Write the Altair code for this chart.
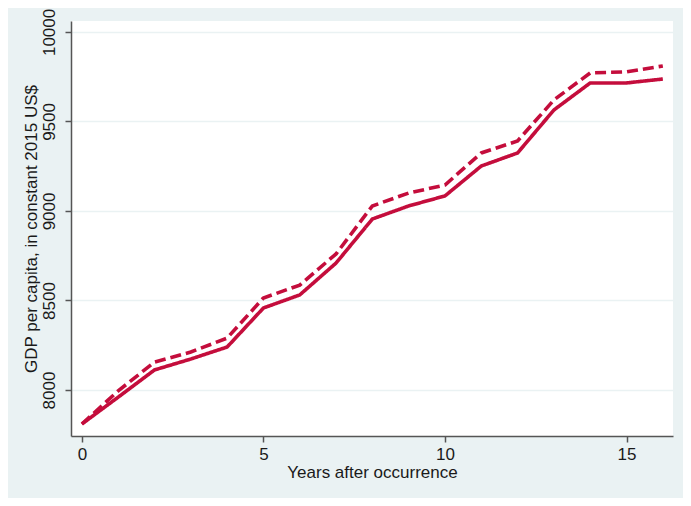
import altair as alt
import pandas as pd

years = list(range(17))
solid = [7810, 7960, 8112, 8173, 8240, 8458, 8531, 8709, 8955, 9028, 9084, 9251, 9324, 9564, 9715, 9715, 9737]
dashed = [7810, 7995, 8156, 8212, 8290, 8514, 8586, 8760, 9028, 9100, 9145, 9324, 9391, 9620, 9771, 9777, 9810]
series_names = ["solid", "dashed"]
x_ticks = [0, 5, 10, 15]
y_ticks = [8000, 8500, 9000, 9500, 10000]

rows = []
for name, vals in zip(series_names, [solid, dashed]):
    for yr, v in zip(years, vals):
        rows.append({"year": yr, "gdp": v, "series": name})
df = pd.DataFrame(rows)

FONT = "Liberation Sans"
AXIS_COL = "#555555"
TXT = "#1a1a1a"

chart = alt.Chart(df).mark_line(strokeWidth=3.6, color="#c40d3c", strokeCap="butt").encode(
    x=alt.X("year:Q",
            scale=alt.Scale(domain=[-0.3, 16.28], nice=False, zero=False),
            axis=alt.Axis(values=x_ticks, title="Years after occurrence", grid=False,
                          format="d",
                          domainColor=AXIS_COL, tickColor=AXIS_COL, tickSize=6,
                          labelPadding=4, labelFontSize=17, titleFontSize=17,
                          titleFontWeight="normal", labelColor=TXT, titleColor=TXT,
                          labelFont=FONT, titleFont=FONT,
                          titleY=41, titleBaseline="alphabetic")),
    y=alt.Y("gdp:Q",
            scale=alt.Scale(domain=[7743, 10061], nice=False, zero=False),
            axis=alt.Axis(values=y_ticks, title="GDP per capita, in constant 2015 US$",
                          format="d",
                          grid=True, gridColor="#eaf2f3", gridWidth=1.5,
                          domainColor=AXIS_COL, tickColor=AXIS_COL, tickSize=6,
                          labelAngle=270, labelAlign="center", labelBaseline="alphabetic",
                          labelPadding=11, labelFontSize=17, titleFontSize=17,
                          titleFontWeight="normal", labelColor=TXT, titleColor=TXT,
                          labelFont=FONT, titleFont=FONT,
                          titleAngle=270, titleAlign="center", titleBaseline="alphabetic",
                          titleX=-35, titleY=207.5)),
    strokeDash=alt.StrokeDash("series:N",
                              scale=alt.Scale(domain=series_names, range=[[1, 0], [11, 5]]),
                              legend=None),
).properties(
    width=602,
    height=415,
    background="#eaf2f3",
    padding={"left": 63, "top": 13, "right": 10, "bottom": 62},
    autosize=alt.AutoSizeParams(type="none"),
).configure_view(
    fill="white", stroke=None
).configure_axis(
    domainWidth=1.5, tickWidth=1.5
)

chart.save("out.html", embed_options={"renderer": "svg", "actions": False})
